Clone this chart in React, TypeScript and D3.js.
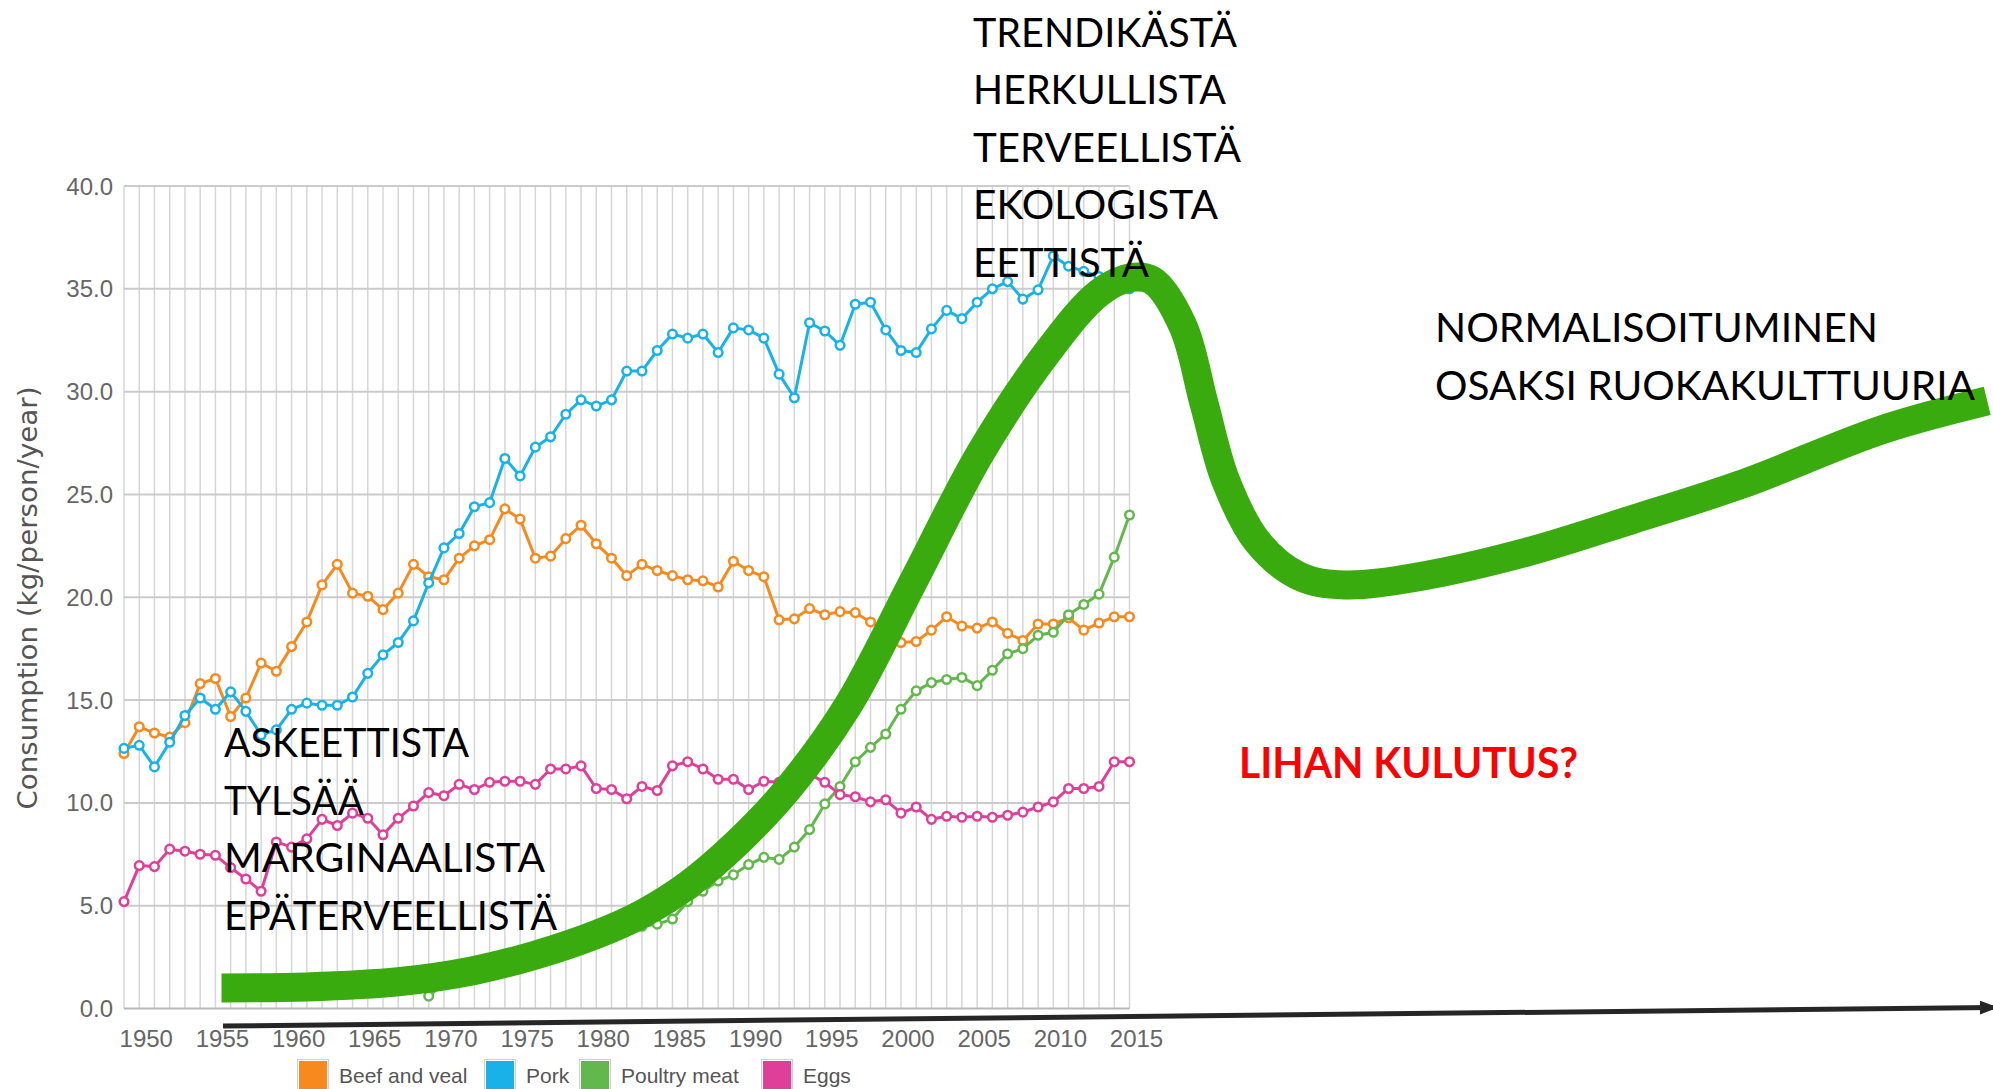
import React from 'react';
import * as d3 from 'd3';

// consumption data, kg/person/year
const years = d3.range(1949, 2016);

const beef = [
  12.4, 13.7, 13.4, 13.2, 13.9, 15.8, 16.05, 14.2, 15.1, 16.8,
  16.4, 17.6, 18.8, 20.6, 21.6, 20.2, 20.05, 19.4, 20.2, 21.6,
  21.0, 20.85, 21.9, 22.5, 22.8, 24.3, 23.8, 21.9, 22.0, 22.85,
  23.5, 22.6, 21.9, 21.05, 21.6, 21.3, 21.05, 20.85, 20.8, 20.5,
  21.75, 21.3, 21.0, 18.9, 18.95, 19.45, 19.15, 19.3, 19.25, 18.8,
  18.3, 17.8, 17.85, 18.4, 19.05, 18.6, 18.5, 18.8, 18.25, 17.9,
  18.7, 18.7, 19.0, 18.4, 18.75, 19.05, 19.05,
];

const pork = [
  12.65, 12.8, 11.75, 12.95, 14.25, 15.1, 14.55, 15.4, 14.45, 13.3,
  13.55, 14.55, 14.85, 14.75, 14.75, 15.15, 16.3, 17.2, 17.8, 18.85,
  20.7, 22.4, 23.1, 24.4, 24.6, 26.75, 25.9, 27.3, 27.8, 28.9,
  29.6, 29.3, 29.6, 31.0, 31.0, 32.0, 32.8, 32.6, 32.8, 31.9,
  33.1, 33.0, 32.6, 30.85, 29.7, 33.35, 32.95, 32.25, 34.25, 34.35,
  33.0, 32.0, 31.9, 33.05, 33.95, 33.55, 34.35, 35.0, 35.35, 34.5,
  34.95, 36.6, 36.1, 35.85, 35.6, 35.3, 35.0,
];

// poultry starts 1969
const poultryStart = 1969;
const poultry = [
  0.6, 1.2, 1.4, 1.6, 1.9, 2.1, 2.3, 2.5, 2.7, 3.0,
  3.2, 3.4, 3.6, 3.8, 4.0, 4.1, 4.35, 5.2, 5.7, 6.2,
  6.5, 7.0, 7.35, 7.25, 7.85, 8.7, 9.95, 10.8, 12.0, 12.7,
  13.35, 14.55, 15.45, 15.85, 16.0, 16.1, 15.7, 16.45, 17.25, 17.5,
  18.15, 18.3, 19.15, 19.65, 20.15, 21.95, 24.0,
];

const eggs = [
  5.2, 6.95, 6.9, 7.75, 7.65, 7.5, 7.45, 6.85, 6.3, 5.7,
  8.1, 7.85, 8.25, 9.2, 8.9, 9.5, 9.25, 8.45, 9.25, 9.85,
  10.5, 10.35, 10.9, 10.65, 11.0, 11.05, 11.05, 10.9, 11.65, 11.65,
  11.8, 10.7, 10.65, 10.2, 10.8, 10.6, 11.8, 12.0, 11.65, 11.15,
  11.15, 10.65, 11.05, 11.0, 11.2, 11.4, 11.0, 10.4, 10.3, 10.05,
  10.15, 9.5, 9.8, 9.2, 9.35, 9.3, 9.35, 9.3, 9.4, 9.55,
  9.8, 10.05, 10.7, 10.7, 10.8, 12.0, 12.0,
];

const seriesNames = ['Beef and veal', 'Pork', 'Poultry meat', 'Eggs'];
const seriesColors = ['#f7891f', '#19b2e8', '#63b84d', '#df3f99'];

const yTicks = [0, 5, 10, 15, 20, 25, 30, 35, 40];
const xTickYears = [1950, 1955, 1960, 1965, 1970, 1975, 1980, 1985, 1990, 1995, 2000, 2005, 2010, 2015];
const yTitle = 'Consumption (kg/person/year)';

// hand-drawn trend overlay, in (year, kg) units
const trendCurve: [number, number][] = [
  [1955.4, 1.0], [1961, 1.05], [1967, 1.3], [1972, 1.85], [1976, 2.6],
  [1980, 3.6], [1983, 4.6], [1986, 6.0], [1989.3, 8.1], [1992.6, 10.7],
  [1996.5, 14.7], [2000.9, 20.9], [2005.2, 27.0], [2009.6, 31.9], [2013, 34.8],
  [2015.1, 35.55], [2016.5, 35.4], [2018.5, 33.2], [2019.9, 29.4], [2021.3, 25.7],
  [2023.4, 22.7], [2026.2, 21.0], [2029.1, 20.6], [2034.0, 21.0], [2041.1, 22.2],
  [2048.1, 23.8], [2055.2, 25.5], [2064.4, 28.15], [2071.3, 29.55],
];
const timeArrow: [number, number][] = [[1955.5, -0.85], [2071.8, 0.05]];

const topWords = ['TRENDIKÄSTÄ', 'HERKULLISTA', 'TERVEELLISTÄ', 'EKOLOGISTA', 'EETTISTÄ'];
const leftWords = ['ASKEETTISTA', 'TYLSÄÄ', 'MARGINAALISTA', 'EPÄTERVEELLISTÄ'];
const rightWords = ['NORMALISOITUMINEN', 'OSAKSI RUOKAKULTTUURIA'];
const question = 'LIHAN KULUTUS?';

// text block layout (px)
const topLayout = { x: 973, y0: 46.7, step: 57.5, widths: [264, 253, 268, 245, 176] };
const leftLayout = { x: 224, y0: 757, step: 57.7, widths: [245, 140, 321, 333] };
const rightLayout = { x: 1435, y0: 342, step: 58, widths: [443, 540] };
const legendX = [299, 486, 581, 763];

const W = 1993;
const H = 1089;

export default function App() {
  const x = d3.scaleLinear().domain([1949, 2015]).range([124, 1129.5]);
  const y = d3.scaleLinear().domain([0, 40]).range([1008.5, 186]);

  const series = [
    years.map((yr, i) => [yr, beef[i]] as [number, number]),
    years.map((yr, i) => [yr, pork[i]] as [number, number]),
    poultry.map((v, i) => [poultryStart + i, v] as [number, number]),
    years.map((yr, i) => [yr, eggs[i]] as [number, number]),
  ];

  const line = d3.line<[number, number]>().x((d) => x(d[0])).y((d) => y(d[1]));
  const trend = d3.line<[number, number]>()
    .x((d) => x(d[0]))
    .y((d) => y(d[1]))
    .curve(d3.curveCatmullRom.alpha(0.5));

  const bigFont = 'Lato, "Open Sans", sans-serif';
  const chartFont = '"Liberation Sans", Arial, sans-serif';

  const words = (list: string[], lay: { x: number; y0: number; step: number; widths: number[] }) =>
    list.map((w, i) => (
      <text
        key={w}
        x={lay.x}
        y={lay.y0 + i * lay.step}
        fontSize={41}
        fontFamily={bigFont}
        fill="#000"
        textLength={lay.widths[i]}
        lengthAdjust="spacingAndGlyphs"
      >
        {w}
      </text>
    ));

  return (
    <svg width={W} height={H} style={{ position: 'absolute', left: 0, top: 0, display: 'block' }}>
      <defs>
        <marker id="arrowHead" markerUnits="userSpaceOnUse" markerWidth={18} markerHeight={14} refX={15} refY={7} orient="auto">
          <path d="M0,0 L18,7 L0,14 Z" fill="#262626" />
        </marker>
      </defs>
      <rect width={W} height={H} fill="#fff" />

      {/* grid */}
      <g>
        {years.map((yr) => (
          <line key={yr} x1={x(yr)} x2={x(yr)} y1={y(40)} y2={y(0)} stroke="#d6d6d6" strokeWidth={1.5} />
        ))}
        {yTicks.map((t) => (
          <line key={t} x1={x(1949)} x2={x(2015)} y1={y(t)} y2={y(t)} stroke={t === 0 ? '#b8b8b8' : '#cbcbcb'} strokeWidth={2} />
        ))}
      </g>

      {/* axes labels */}
      <g fontFamily={chartFont} fontSize={24} fill="#666">
        {yTicks.map((t) => (
          <text key={t} x={113} y={y(t) + 8.5} textAnchor="end">{d3.format('.1f')(t)}</text>
        ))}
        {xTickYears.map((yr) => (
          <text key={yr} x={x(yr) + 7} y={1047} textAnchor="middle">{yr}</text>
        ))}
      </g>
      <text
        transform="translate(37, 598) rotate(-90)"
        textAnchor="middle"
        fontFamily='"DejaVu Sans", Verdana, sans-serif'
        fontSize={26}
        fill="#555"
        textLength={423}
        lengthAdjust="spacingAndGlyphs"
      >
        {yTitle}
      </text>

      {/* series */}
      {series.map((s, si) => (
        <g key={seriesNames[si]}>
          <path d={line(s) || ''} fill="none" stroke={seriesColors[si]} strokeWidth={3} strokeLinejoin="round" />
          {s.map((d) => (
            <circle key={d[0]} cx={x(d[0])} cy={y(d[1])} r={4.3} fill="#fff" stroke={seriesColors[si]} strokeWidth={2.5} />
          ))}
        </g>
      ))}

      {/* legend */}
      <g fontFamily={chartFont} fontSize={21} fill="#555">
        {seriesNames.map((n, i) => (
          <g key={n} transform={`translate(${legendX[i]}, 1061)`}>
            <rect x={-1.5} y={-1.5} width={31} height={31} fill="#fff" stroke="#d0d0d0" strokeWidth={1} />
            <rect width={28} height={28} fill={seriesColors[i]} />
            <text x={40} y={22}>{n}</text>
          </g>
        ))}
      </g>

      {/* overlay */}
      <path d={trend(trendCurve) || ''} fill="none" stroke="#3aab0f" strokeWidth={29} strokeLinecap="butt" />
      <path d={line(timeArrow) || ''} fill="none" stroke="#262626" strokeWidth={5} markerEnd="url(#arrowHead)" />

      {words(topWords, topLayout)}
      {words(leftWords, leftLayout)}
      {words(rightWords, rightLayout)}
      <text
        x={1239}
        y={778}
        fontSize={42}
        fontWeight="bold"
        fontFamily={bigFont}
        fill="#ff0000"
        textLength={339}
        lengthAdjust="spacingAndGlyphs"
      >
        {question}
      </text>
    </svg>
  );
}
